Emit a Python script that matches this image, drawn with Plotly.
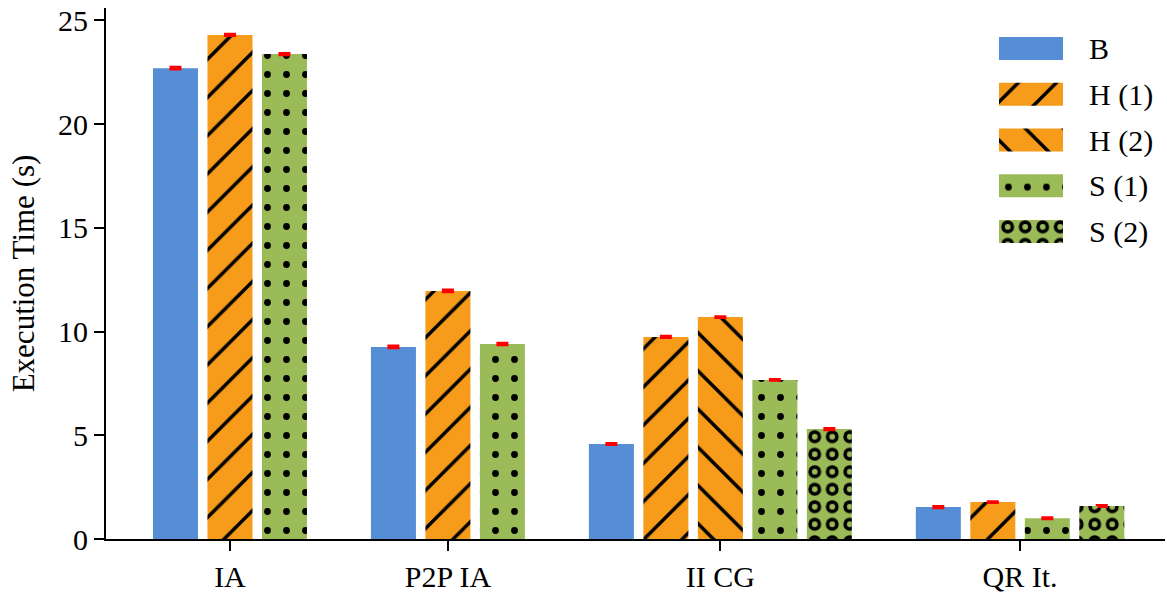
import plotly.graph_objects as go

# ---- data ----
categories = ["IA", "P2P IA", "II CG", "QR It."]
series_names = ["B", "H (1)", "H (2)", "S (1)", "S (2)"]
B_vals = [22.70, 9.26, 4.58, 1.54]
H1_vals = [24.30, 11.96, 9.74, 1.78]
H2_vals = [None, None, 10.70, None]
S1_vals = [23.38, 9.40, 7.67, 1.00]
S2_vals = [None, None, 5.30, 1.59]
B_err = [0.04, 0.04, 0.03, 0.03]
H1_err = [0.03, 0.04, 0.03, 0.02]
H2_err = [None, None, 0.02, None]
S1_err = [0.03, 0.04, 0.02, 0.02]
S2_err = [None, None, 0.03, 0.02]
y_ticks = [0, 5, 10, 15, 20, 25]

# ---- styles ----
BLUE = "#558ED5"
ORANGE = "#F79B1B"
GREEN = "#9BBB59"
FONT = "Liberation Serif"
FS = 30

values = [B_vals, H1_vals, H2_vals, S1_vals, S2_vals]
errors = [B_err, H1_err, H2_err, S1_err, S2_err]
colors = [BLUE, ORANGE, ORANGE, GREEN, GREEN]
patterns = [
    dict(shape=""),
    dict(shape="/", size=27, solidity=0.13, fgcolor="black", fgopacity=1, bgcolor=ORANGE),
    dict(shape="\\", size=27, solidity=0.13, fgcolor="black", fgopacity=1, bgcolor=ORANGE),
    dict(shape=".", size=19, solidity=0.1, fgcolor="black", fgopacity=1, bgcolor=GREEN),
    dict(shape=".", size=17.5, solidity=0.43, fgcolor="black", fgopacity=1, bgcolor=GREEN),
]
ring_inner = dict(shape=".", size=17.5, solidity=0.085, fgcolor=GREEN, fgopacity=1,
                  bgcolor="rgba(0,0,0,0)")

# ---- compute slot positions: bars packed, one empty slot between groups ----
positions = {s: [] for s in range(len(series_names))}
centers = []
slot = 0
for gi in range(len(categories)):
    start = slot
    for si in range(len(series_names)):
        if values[si][gi] is not None:
            positions[si].append((slot, values[si][gi], errors[si][gi]))
            slot += 1
    centers.append((start + slot - 1) / 2)
    slot += 1  # gap

BAR_W = 0.826
fig = go.Figure()
for si, name in enumerate(series_names):
    xs = [p[0] for p in positions[si]]
    ys = [p[1] for p in positions[si]]
    es = [p[2] for p in positions[si]]
    fig.add_trace(go.Bar(
        x=xs, y=ys, width=BAR_W, name=name,
        marker=dict(color=colors[si], line=dict(width=0), pattern=patterns[si]),
        error_y=dict(type="data", array=es, color="red", thickness=3, width=6),
        showlegend=False, xaxis="x", yaxis="y",
    ))
    if name == "S (2)":
        fig.add_trace(go.Bar(
            x=xs, y=ys, width=BAR_W, name=name,
            marker=dict(color="rgba(0,0,0,0)", line=dict(width=0), pattern=ring_inner),
            showlegend=False, hoverinfo="skip", xaxis="x", yaxis="y",
        ))

# ---- legend drawn as an inset of horizontal bars ----
for si, name in enumerate(series_names):
    fig.add_trace(go.Bar(
        x=[1], y=[name], orientation="h", width=0.5,
        marker=dict(color=colors[si], line=dict(width=0), pattern=patterns[si]),
        showlegend=False, hoverinfo="skip", xaxis="x2", yaxis="y2",
    ))
    if name == "S (2)":
        fig.add_trace(go.Bar(
            x=[1], y=[name], orientation="h", width=0.5,
            marker=dict(color="rgba(0,0,0,0)", line=dict(width=0), pattern=ring_inner),
            showlegend=False, hoverinfo="skip", xaxis="x2", yaxis="y2",
        ))

fig.update_layout(
    width=1167, height=592,
    margin=dict(l=106, r=2, t=8, b=53),
    barmode="overlay",
    paper_bgcolor="white", plot_bgcolor="white",
    font=dict(family=FONT, size=FS, color="black"),
    xaxis=dict(
        range=[-1.275, 18.16],
        tickvals=centers, ticktext=categories,
        showline=True, linecolor="black", linewidth=2,
        ticks="outside", ticklen=10, tickwidth=2, tickcolor="black",
        showgrid=False, zeroline=False, automargin=False,
        tickfont=dict(family=FONT, size=FS),
    ),
    yaxis=dict(
        range=[0, 25.6], tickvals=y_ticks,
        title=dict(text="Execution Time (s)", font=dict(family=FONT, size=31), standoff=14),
        showline=True, linecolor="black", linewidth=2,
        ticks="outside", ticklen=10, tickwidth=2, tickcolor="black",
        showgrid=False, zeroline=False, automargin=False,
        tickfont=dict(family=FONT, size=FS),
    ),
    xaxis2=dict(domain=[0.8432, 0.9037], range=[0, 1], visible=False, anchor="y2", fixedrange=True),
    yaxis2=dict(
        domain=[0.5360, 0.9668], anchor="x2", side="right",
        categoryorder="array", categoryarray=series_names, autorange="reversed",
        showline=False, ticks="", showgrid=False, zeroline=False,
        ticklabelstandoff=25, tickfont=dict(family=FONT, size=FS), fixedrange=True,
    ),
)

fig.write_html("out.html", config={"displayModeBar": False},
               post_script="document.body.style.margin='0';")
